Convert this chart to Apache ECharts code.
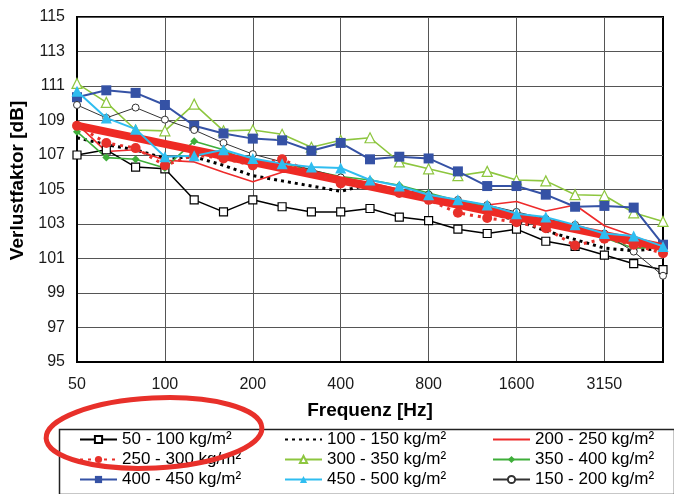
<!DOCTYPE html>
<html>
<head>
<meta charset="utf-8">
<script src="https://cdn.jsdelivr.net/npm/echarts@6/dist/echarts.min.js"></script>
<style>html,body{margin:0;padding:0;background:#fff;}#c{width:674px;height:494px;}</style>
</head>
<body>
<div id="c"></div>
<script>
const frequencies = ['50','63','80','100','125','160','200','250','315','400','500','630','800','1000','1250','1600','2000','2500','3150','4000','5000'];
const yTicks = [95,97,99,101,103,105,107,109,111,113,115];

const s50_100  = [107.0,107.3,106.3,106.2,104.4,103.7,104.4,104.0,103.7,103.7,103.9,103.4,103.2,102.7,102.45,102.7,102.0,101.7,101.2,100.7,100.35];
const s100_150 = [108.0,107.6,107.3,106.8,106.9,106.4,105.8,105.5,105.2,104.9,105.3,104.9,104.6,104.1,103.7,103.2,102.6,102.1,101.6,101.45,101.6];
const s200_250 = [108.8,107.2,107.3,106.7,106.6,106.0,105.45,106.0,106.0,105.7,105.4,105.0,104.7,104.3,104.1,104.3,103.75,104.1,102.9,102.3,101.6];
const s250_300 = [108.7,107.7,107.4,106.4,107.0,106.8,106.4,106.75,106.0,105.35,105.3,104.8,104.4,103.65,103.35,103.1,102.75,101.75,102.15,101.8,101.3];
const s300_350 = [111.15,110.05,108.45,108.4,109.95,108.4,108.45,108.2,107.45,107.85,108.0,106.6,106.2,105.8,106.05,105.55,105.5,104.7,104.65,103.65,103.15];
const s350_400 = [108.35,106.85,106.75,106.25,107.8,107.3,106.45,106.55,106.1,105.75,105.55,105.25,104.8,104.35,104.0,103.6,103.2,102.9,102.2,101.6,101.65];
const s400_450 = [110.35,110.75,110.6,109.9,108.7,108.25,107.95,107.85,107.25,107.7,106.75,106.9,106.8,106.05,105.2,105.2,104.7,104.0,104.05,103.95,101.8];
const s450_500 = [110.7,109.15,108.5,106.9,106.95,107.3,106.8,106.5,106.3,106.25,105.55,105.2,104.7,104.4,104.1,103.6,103.4,102.95,102.45,102.3,101.7];
const s150_200 = [109.9,109.15,109.75,109.05,108.45,107.7,107.05,106.6,106.15,105.7,105.3,105.0,104.7,104.4,104.1,103.7,103.3,102.95,102.45,101.4,100.0];
const trendStart = 108.7, trendEnd = 101.65;

const names = ['50 - 100 kg/m²','100 - 150 kg/m²','200 - 250 kg/m²','250 - 300 kg/m²','300 - 350 kg/m²','350 - 400 kg/m²','400 - 450 kg/m²','450 - 500 kg/m²','150 - 200 kg/m²'];

const FONT = 'Liberation Sans, Arial, sans-serif';
const chart = echarts.init(document.getElementById('c'), null, {renderer:'canvas'});

function line(name, data, color, opts) {
  return Object.assign({
    name: name, type: 'line', data: data, z: 2,
    lineStyle: {color: color, width: 1.5},
    itemStyle: {color: color},
    symbol: 'circle', animation: false, silent: true
  }, opts);
}

const noMark = {showSymbol: false, itemStyle: {color: 'rgba(0,0,0,0)', borderWidth: 0}};

const series = [
  line(names[0], s50_100, '#000', {symbol:'rect', symbolSize:8, lineStyle:{color:'#000', width:1.5}, itemStyle:{color:'#fff', borderColor:'#000', borderWidth:1.2}}),
  line(names[1], s100_150, '#000', Object.assign({lineStyle:{color:'#000', width:3, type:[3,4]}}, noMark)),
  line(names[2], s200_250, '#ee2b2b', Object.assign({lineStyle:{color:'#ee2b2b', width:1.6}}, noMark)),
  line(names[3], s250_300, '#e8302a', {z:4, symbol:'circle', symbolSize:10, lineStyle:{color:'#e8302a', width:3, type:[3,5]}, itemStyle:{color:'#e8302a'}}),
  line(names[4], s300_350, '#8dc63f', {symbol:'triangle', symbolSize:10, lineStyle:{color:'#8dc63f', width:1.6}, itemStyle:{color:'#fff', borderColor:'#8dc63f', borderWidth:1.2}}),
  line(names[5], s350_400, '#3fae3a', {symbol:'diamond', symbolSize:8, lineStyle:{color:'#3fae3a', width:1.6}, itemStyle:{color:'#3fae3a'}}),
  line(names[6], s400_450, '#3552a5', {symbol:'rect', symbolSize:10, lineStyle:{color:'#3552a5', width:2}, itemStyle:{color:'#3552a5'}}),
  line(names[7], s450_500, '#2fbdf0', {z:4, symbol:'triangle', symbolSize:11, lineStyle:{color:'#2fbdf0', width:2}, itemStyle:{color:'#2fbdf0'}}),
  line(names[8], s150_200, '#333', {symbol:'circle', symbolSize:7, lineStyle:{color:'#333', width:1}, itemStyle:{color:'#fff', borderColor:'#333', borderWidth:1}}),
  {type:'line', name:'trend', z:3, data:[[frequencies[0], trendStart],[frequencies[frequencies.length-1], trendEnd]], symbol:'none', lineStyle:{color:'#ee2a24', width:8}, animation:false, silent:true}
];

function legendCol(left, items) {
  return {
    left: left, top: 431, width: 180, height: 62, padding: 0,
    orient: 'vertical', itemGap: 3, itemWidth: 37, itemHeight: 9,
    data: items, selectedMode: false,
    textStyle: {fontFamily: FONT, fontSize: 17, color: '#000', lineHeight: 17}
  };
}

chart.setOption({
  backgroundColor: '#fff',
  animation: false,
  grid: {left: 77, right: 11, top: 17, bottom: 132, show: true, borderColor: '#000', borderWidth: 2, backgroundColor: 'transparent'},
  xAxis: {
    type: 'category', data: frequencies, boundaryGap: false,
    name: 'Frequenz [Hz]', nameLocation: 'middle', nameGap: 39,
    nameTextStyle: {fontFamily: FONT, fontSize: 19, fontWeight: 'bold', color: '#000'},
    axisLine: {lineStyle: {color: '#000', width: 2}},
    axisTick: {show: false},
    axisLabel: {interval: 2, margin: 15, fontFamily: FONT, fontSize: 16, color: '#1a1a1a'},
    splitLine: {show: true, interval: 2, lineStyle: {color: '#555', width: 1}}
  },
  yAxis: {
    type: 'value', min: yTicks[0], max: yTicks[yTicks.length-1], interval: 2,
    name: 'Verlustfaktor [dB]', nameLocation: 'middle', nameGap: 46,
    nameTextStyle: {fontFamily: FONT, fontSize: 19, fontWeight: 'bold', color: '#000', padding: [0,0,0,18]},
    axisLine: {show: true, lineStyle: {color: '#000', width: 2}},
    axisTick: {show: false},
    axisLabel: {margin: 12, fontFamily: FONT, fontSize: 16, color: '#1a1a1a'},
    splitLine: {show: true, lineStyle: {color: '#555', width: 1}}
  },
  legend: [
    legendCol(79, [names[0], names[3], names[6]]),
    legendCol(284, [names[1], names[4], names[7]]),
    legendCol(492, [names[2], names[5], names[8]])
  ],
  graphic: [
    {type:'rect', left: 57, top: 427, shape:{x:0, y:0, width:615, height:65}, style:{fill:'none', stroke:'#222', lineWidth:1.5}, z: 0},
    {type:'ellipse', shape:{cx:0, cy:0, rx:108, ry:35}, x:154, y:433, rotation:0.05, style:{fill:'none', stroke:'#e8302a', lineWidth:5}, z: 100}
  ],
  series: series
});
</script>
</body>
</html>
